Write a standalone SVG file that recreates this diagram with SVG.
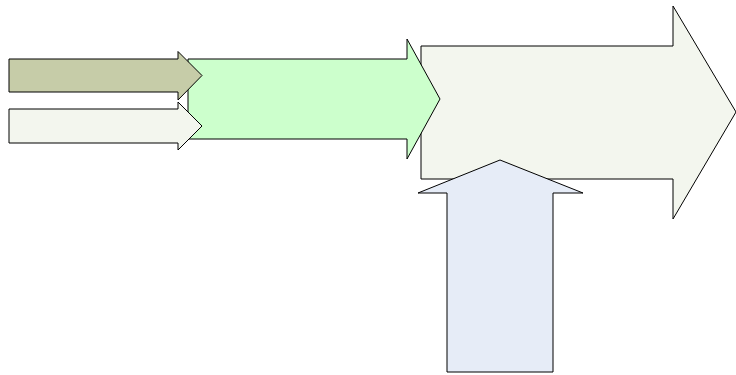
<svg xmlns="http://www.w3.org/2000/svg" width="736" height="375" viewBox="0 0 736 375">
<style>
.a{stroke:#000;stroke-width:1;stroke-linejoin:miter}
</style>
<rect width="736" height="375" fill="#fff"/>
<g id="big-arrow"><polygon class="a" fill="#f3f6ee" points="421,46 673,46 673,6 736,112 673,219 673,179 421,179"/></g>
<g id="blue-arrow"><polygon class="a" fill="#e6ecf7" points="447,372 447,193 418,193 500,160 583,193 553,193 553,372"/></g>
<g id="green-arrow"><polygon class="a" fill="#ccffcc" points="188,59 407,59 407,39 440,99 407,159 407,139 188,139"/></g>
<g id="olive-arrow"><polygon class="a" fill="#c6cca8" points="9,59 178,59 178,51.5 202,75.5 178,100 178,92 9,92"/></g>
<g id="light-arrow"><polygon class="a" fill="#f3f6ee" points="9,109 178,109 178,102 202,126 178,150 178,143 9,143"/></g>
<g id="connectors"></g>
</svg>
